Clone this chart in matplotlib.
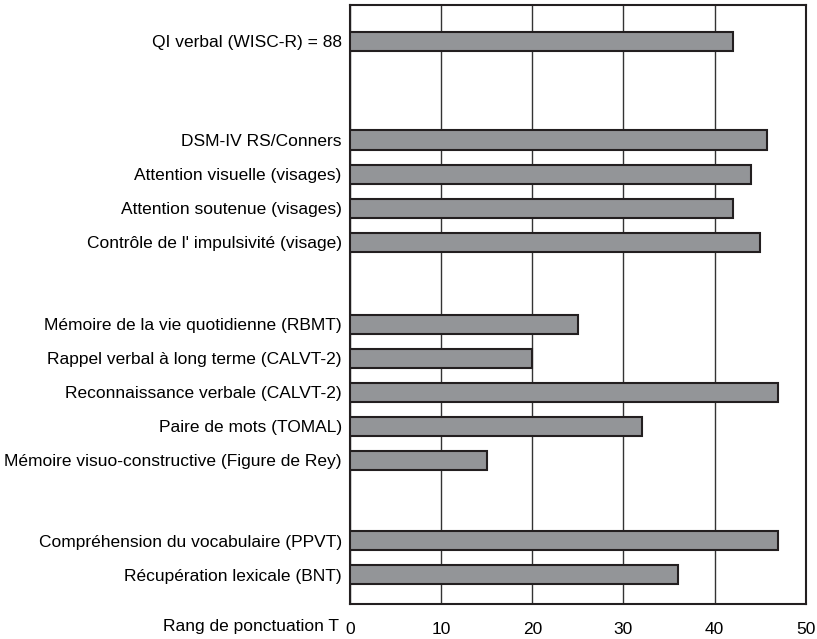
import matplotlib.pyplot as plt

plt.rcParams['font.family'] = ['Liberation Sans', 'DejaVu Sans']

# data, top to bottom, in groups
groups = [
    ["QI verbal (WISC-R) = 88"],
    ["DSM-IV RS/Conners",
     "Attention visuelle (visages)",
     "Attention soutenue (visages)",
     "Contrôle de l' impulsivité (visage)"],
    ["Mémoire de la vie quotidienne (RBMT)",
     "Rappel verbal à long terme (CALVT-2)",
     "Reconnaissance verbale (CALVT-2)",
     "Paire de mots (TOMAL)",
     "Mémoire visuo-constructive (Figure de Rey)"],
    ["Compréhension du vocabulaire (PPVT)",
     "Récupération lexicale (BNT)"],
]
scores = [
    [42],
    [45.7, 44, 42, 45],
    [25, 20, 47, 32, 15],
    [47, 36],
]
xticks = [0, 10, 20, 30, 40, 50]

# layout: row positions with gaps between groups
gaps = [2.9, 2.4, 2.35]
labels, values, ypos = [], [], []
y = 1.05
for gi, (g, s) in enumerate(zip(groups, scores)):
    for lab, v in zip(g, s):
        labels.append(lab)
        values.append(v)
        ypos.append(y)
        y += 1
    if gi < len(gaps):
        y += gaps[gi] - 1
y_bottom = ypos[-1] + 0.86

fig = plt.figure(figsize=(8.17, 6.39), dpi=100)
ax = fig.add_axes([0.4284, 0.0548, 0.9862 - 0.4284, 0.9917 - 0.0548])

ax.barh(ypos, values, height=0.56, color='#939598', edgecolor='#231f20',
        linewidth=1.5, zorder=3)

ax.set_xlim(0, 50)
ax.set_ylim(y_bottom, 0)
ax.set_xticks(xticks)
ax.set_yticks(ypos)
ax.set_yticklabels(labels, fontsize=12.5)
ax.tick_params(axis='y', length=0, pad=6)
ax.tick_params(axis='x', length=0, pad=13, labelsize=12.5)
ax.grid(axis='x', color='#333333', linewidth=1, zorder=0)

for sp in ax.spines.values():
    sp.set_linewidth(1.5)
    sp.set_color('#231f20')

fig.text(0.415, 1 - 627 / 639, "Rang de ponctuation T", ha='right', va='center',
         fontsize=12.5)

plt.savefig('out.png', dpi=100)
